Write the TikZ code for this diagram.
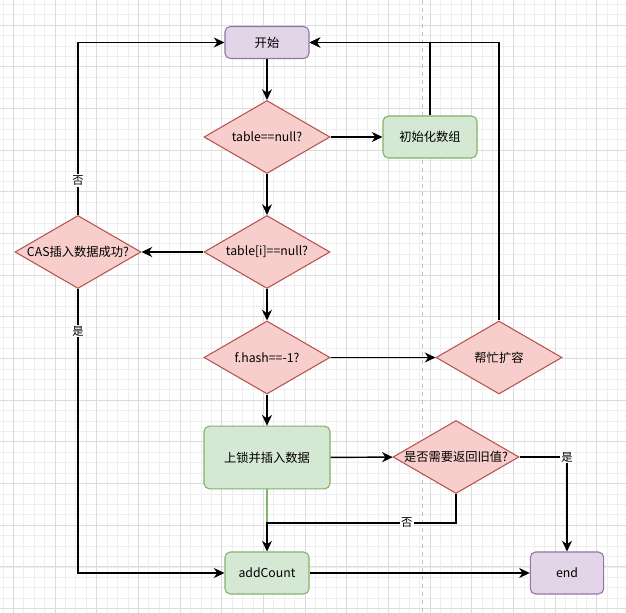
\documentclass[tikz,border=0pt]{standalone}
\usepackage{fontspec}
\setmainfont{Noto Sans CJK SC}
\usetikzlibrary{shapes.geometric,arrows.meta}
\definecolor{dioPurple}{HTML}{E1D5E7}
\definecolor{dioPurpleLine}{HTML}{9673A6}
\definecolor{dioGreen}{HTML}{D5E8D4}
\definecolor{dioGreenLine}{HTML}{82B366}
\definecolor{dioRed}{HTML}{F8CECC}
\definecolor{dioRedLine}{HTML}{B85450}
\definecolor{gridMinor}{HTML}{EEEEEE}
\definecolor{gridMajor}{HTML}{DCDCDC}

\begin{document}
\begin{tikzpicture}[x=0.75pt, y=-0.75pt,
    txt/.style={font=\fontsize{9.2}{11}\selectfont},
    every label/.style={txt},
    box/.style={draw, rounded corners=4pt, line width=0.8pt, inner sep=0pt, txt},
    purplebox/.style={box, draw=dioPurpleLine, fill=dioPurple},
    greenbox/.style={box, draw=dioGreenLine, fill=dioGreen},
    choice/.style={diamond, draw=dioRedLine, fill=dioRed, line width=0.8pt, inner sep=0pt,
        minimum width=94.5pt, minimum height=54.75pt},
    flow/.style={-{Stealth[length=8pt,width=7.5pt,inset=2.5pt]}, line width=1.1pt},
    yesno/.style={fill=white, inner sep=1pt, font=\fontsize{8.5}{10}\selectfont}]
  \useasboundingbox (0,0) rectangle (626,613);
  \fill[white] (0,0) rectangle (626,613);
  % grid
  \foreach \k in {-1,...,59} {
    \pgfmathsetmacro\gx{13.3+10.42*\k}
    \draw[gridMinor, line width=0.5pt] (\gx,0) -- (\gx,613);
  }
  \foreach \k in {-2,...,56} {
    \pgfmathsetmacro\gy{25+10.42*\k}
    \draw[gridMinor, line width=0.5pt] (0,\gy) -- (626,\gy);
  }
  \foreach \k in {0,...,14} {
    \pgfmathsetmacro\gx{13.3+41.68*\k}
    \draw[gridMajor, line width=0.6pt] (\gx,0) -- (\gx,613);
  }
  \foreach \k in {0,...,14} {
    \pgfmathsetmacro\gy{25+41.68*\k}
    \draw[gridMajor, line width=0.6pt] (0,\gy) -- (626,\gy);
  }
  \draw[gray!50, dashed, line width=0.6pt] (422,0) -- (422,613);

  % nodes
  \node[purplebox, minimum width=63pt, minimum height=24pt] (start) at (267,42.5) {开始};
  \node[choice, label=center:{table==null?}] (t1) at (267,137) {};
  \node[greenbox, minimum width=70.5pt, minimum height=31.5pt] (init) at (430,137) {初始化数组};
  \node[choice, label=center:{table[i]==null?}] (t2) at (267,252) {};
  \node[choice, label=center:{CAS插入数据成功?}] (cas) at (78,252) {};
  \node[choice, label=center:{f.hash==-1?}] (fh) at (267,357.5) {};
  \node[choice, label=center:{帮忙扩容}] (help) at (499,357.5) {};
  \node[greenbox, minimum width=94.5pt, minimum height=47pt] (lock) at (267,457.5) {上锁并插入数据};
  \node[choice, label=center:{是否需要返回旧值?}] (ret) at (456,457) {};
  \node[greenbox, minimum width=63pt, minimum height=31.5pt] (addc) at (267,573) {addCount};
  \node[purplebox, minimum width=55pt, minimum height=31.5pt] (end) at (567,573) {end};
  \coordinate (merge) at (267,523);

  % connectors
  \draw[flow] (start) -- (t1);
  \draw[flow] (t1) -- (init);
  \draw[flow] (init.north) |- (start.east);
  \draw[flow] (help.north) |- (start.east);
  \draw[flow] (t1) -- (t2);
  \draw[flow] (t2) -- (cas);
  \draw[flow] (cas.north) |- node[yesno, pos=0.1] {否} (start.west);
  \draw[flow] (cas.south) |- node[yesno, pos=0.074] {是} (addc.west);
  \draw[flow] (t2) -- (fh);
  \draw[flow] (fh) -- (help);
  \draw[flow] (fh) -- (lock);
  \draw[flow] (lock) -- (ret);
  \draw[flow] (ret.east) -| node[yesno] {是} (end.north);
  \draw[dioGreenLine, line width=1.1pt] (lock) -- (merge);
  \draw[flow] (ret.south) |- node[yesno, pos=0.63] {否} (merge) -- (addc.north);
  \draw[flow] (addc) -- (end);
\end{tikzpicture}
\end{document}
